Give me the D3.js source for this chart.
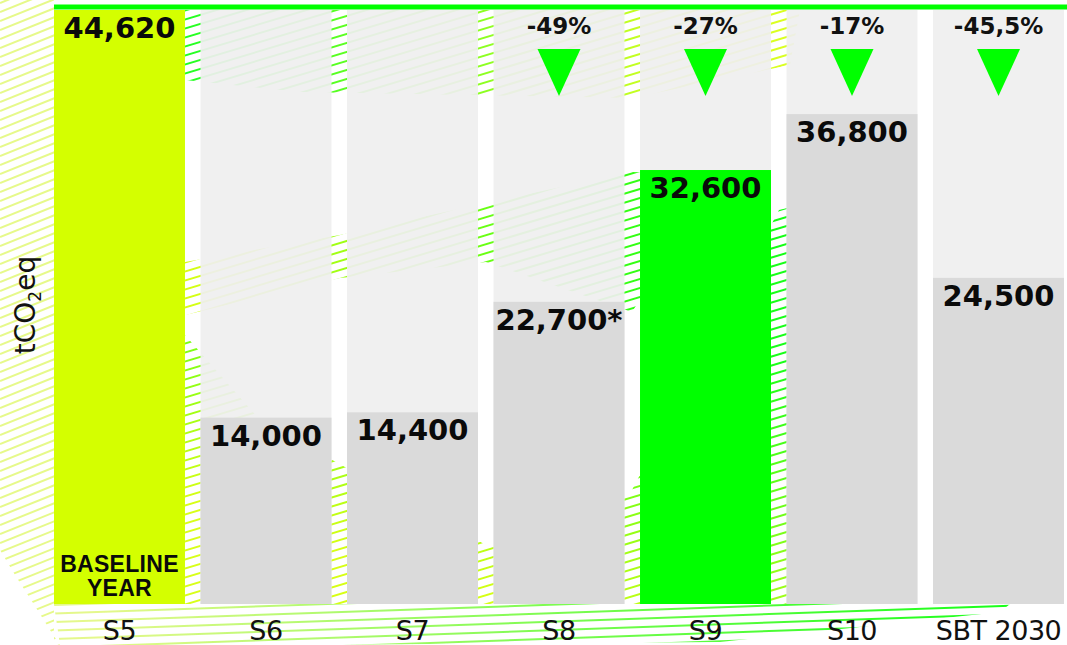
<!DOCTYPE html>
<html>
<head>
<meta charset="utf-8">
<script src="https://cdn.jsdelivr.net/npm/d3@7"></script>
<style>
  body { margin: 0; background: #fff; }
  svg { display: block; }
</style>
</head>
<body>
<svg id="chart" width="1067" height="645"></svg>
<script>
// chart values
const categories = ["S5", "S6", "S7", "S8", "S9", "S10", "SBT 2030"];
const values = [44620, 14000, 14400, 22700, 32600, 36800, 24500];
const valueSuffix = ["", "", "", "*", "", "", ""];
const changes = [null, null, null, "-49%", "-27%", "-17%", "-45,5%"];
const barColors = ["#d4ff00", "#dadada", "#dadada", "#dadada", "#00ff00", "#dadada", "#dadada"];
const baselineLines = ["BASELINE", "YEAR"];

let svg = d3.select("svg#chart");
let defs = svg.append("defs");

var x = d3.scaleBand()
  .domain(categories)
  .range([54, 1064])
  .paddingInner(0.106)
  .paddingOuter(0);

var y = d3.scaleLinear()
  .domain([0, 44620])
  .range([604, 10]);

var format = d3.format(",");

// decorative hatching behind the bars
function hatch(id, pts, slope, gap, c0, c1, grad, op) {
  defs.append("clipPath").attr("id", id)
    .append("polygon").attr("points", pts.map(p => p.join(",")).join(" "));
  let g = defs.append("linearGradient").attr("id", id + "g")
    .attr("gradientUnits", "userSpaceOnUse")
    .attr("x1", grad[0]).attr("y1", grad[1]).attr("x2", grad[2]).attr("y2", grad[3]);
  g.append("stop").attr("offset", 0).attr("stop-color", c0);
  g.append("stop").attr("offset", 1).attr("stop-color", c1);
  svg.append("g")
    .attr("clip-path", `url(#${id})`)
    .selectAll("line")
    .data(d3.range(-600, 1400, gap))
    .join("line")
    .attr("x1", 0).attr("y1", d => d)
    .attr("x2", 1067).attr("y2", d => d + slope * 1067)
    .attr("stroke", `url(#${id}g)`)
    .attr("stroke-width", 2)
    .attr("opacity", op);
}

hatch("hl", [[0, 0], [54, 0], [54, 645], [60, 645], [50, 630], [33, 603], [15, 575], [0, 550]],
  -0.4, 9, "#e6f98a", "#e6f98a", [0, 0, 60, 0], 1);
hatch("hb", [[54, 604], [1010, 604], [1000, 612], [720, 642], [300, 645], [60, 645]],
  -0.035, 8.5, "#e2f880", "#00ff00", [100, 0, 1000, 0], 0.9);
hatch("hlow", [[185, 335], [260, 420], [486, 545], [632, 490], [779, 210], [800, 205], [800, 604], [185, 604]],
  -0.3, 9, "#00ff00", "#d4ff00", [600, 300, 500, 604], 0.9);
hatch("hmid", [[185, 262], [340, 235], [486, 203], [632, 172], [720, 175], [632, 312], [486, 262], [340, 278], [185, 315]],
  -0.3, 9, "#d4ff00", "#00ff00", [185, 0, 720, 0], 0.9);
hatch("htop", [[185, 10], [800, 10], [790, 65], [632, 98], [300, 92], [185, 80]],
  -0.3, 9, "#00ff00", "#d4ff00", [185, 0, 700, 0], 0.85);

// background columns (slightly see-through)
svg.append("g")
  .selectAll("rect")
  .data(categories)
  .join("rect")
  .attr("x", d => x(d))
  .attr("y", y(44620))
  .attr("width", x.bandwidth())
  .attr("height", y(0) - y(44620))
  .attr("fill", "#efefef")
  .attr("opacity", 0.93);

// bars
svg.append("g")
  .selectAll("rect")
  .data(values)
  .join("rect")
  .attr("x", (d, i) => x(categories[i]))
  .attr("y", d => y(d))
  .attr("width", x.bandwidth())
  .attr("height", d => y(0) - y(d))
  .attr("fill", (d, i) => barColors[i]);

// top green rule
svg.append("rect")
  .attr("x", x(categories[0]))
  .attr("y", 4.5)
  .attr("width", 1067 - x(categories[0]))
  .attr("height", 5)
  .attr("fill", "#00ff00");

// value labels
svg.append("g")
  .selectAll("text")
  .data(values)
  .join("text")
  .attr("x", (d, i) => x(categories[i]) + x.bandwidth() / 2)
  .attr("y", d => y(d) + 28)
  .attr("text-anchor", "middle")
  .attr("font-family", "DejaVu Sans")
  .attr("font-weight", "bold")
  .attr("font-size", 29)
  .attr("fill", "#0a0a0a")
  .text((d, i) => format(d) + valueSuffix[i]);

// baseline label
svg.append("g")
  .selectAll("text")
  .data(baselineLines)
  .join("text")
  .attr("x", x(categories[0]) + x.bandwidth() / 2)
  .attr("y", (d, i) => 572 + i * 24)
  .attr("text-anchor", "middle")
  .attr("font-family", "Liberation Sans")
  .attr("font-weight", "bold")
  .attr("font-size", 23)
  .attr("letter-spacing", 0.3)
  .attr("fill", "#0a0a0a")
  .text(d => d);

// change labels + down triangles
let chg = svg.append("g")
  .selectAll("g")
  .data(changes.map((c, i) => ({c: c, cat: categories[i]})).filter(d => d.c))
  .join("g")
  .attr("transform", d => `translate(${x(d.cat) + x.bandwidth() / 2},0)`);

chg.append("text")
  .attr("y", 34)
  .attr("text-anchor", "middle")
  .attr("font-family", "DejaVu Sans")
  .attr("font-weight", "bold")
  .attr("font-size", 23)
  .attr("fill", "#111")
  .text(d => d.c);

chg.append("path")
  .attr("d", "M-21.5,49L21.5,49L0,96Z")
  .attr("fill", "#00ff00");

// x axis
let xAxis = svg.append("g")
  .attr("transform", `translate(0,${y(0)})`)
  .call(d3.axisBottom(x).tickSize(0).tickPadding(17));
xAxis.select(".domain").remove();
xAxis.selectAll("text")
  .attr("font-family", "DejaVu Sans")
  .attr("font-size", 27)
  .attr("letter-spacing", -0.5)
  .attr("fill", "#111");

// y label
let yLabel = svg.append("text")
  .attr("transform", "translate(35,305) rotate(-90)")
  .attr("text-anchor", "middle")
  .attr("font-family", "DejaVu Sans")
  .attr("font-size", 28)
  .attr("fill", "#111");
yLabel.append("tspan").text("tCO");
yLabel.append("tspan").attr("font-size", 17).attr("dy", 6).text("2");
yLabel.append("tspan").attr("dy", -6).text("eq");
</script>
</body>
</html>
